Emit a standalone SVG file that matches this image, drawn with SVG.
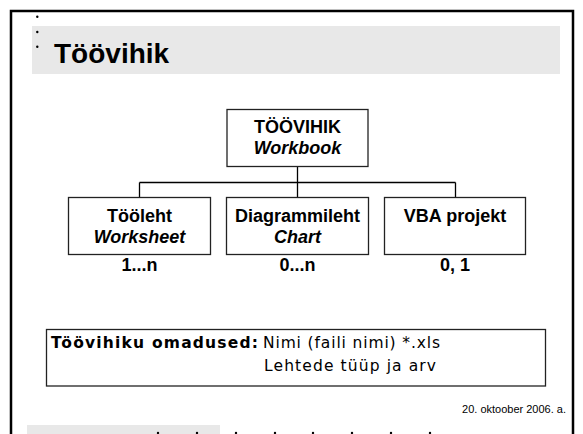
<svg xmlns="http://www.w3.org/2000/svg" width="583" height="434" viewBox="0 0 583 434">
<style>
.box{fill:#fff;stroke:#222;stroke-width:1.3}
.b{font-family:"Liberation Sans",Arial,sans-serif;font-weight:bold;font-size:18px;text-anchor:middle;fill:#000}
.i{font-style:italic}
.conn{fill:none;stroke:#000;stroke-width:1.3}
.p{font-family:"DejaVu Sans",Verdana,sans-serif;font-size:15.5px;fill:#000}
.dot{fill:#000}
</style>
<rect width="583" height="434" fill="#fff"/>
<path d="M11 434 V11 H573 V434" fill="none" stroke="#000" stroke-width="2.5"/>
<rect x="32" y="26" width="528" height="48" fill="#e8e8e8"/>
<circle class="dot" cx="37.3" cy="16.8" r="1.2"/>
<circle class="dot" cx="37.3" cy="32" r="1.2"/>
<circle class="dot" cx="37.3" cy="46.8" r="1.2"/>
<text x="54" y="63" font-family="Liberation Sans,Arial,sans-serif" font-weight="bold" font-size="28">Töövihik</text>
<g id="connectors">
<path class="conn" d="M297.5 167 V182.5 M139.5 182.5 H455.5 M139.5 182.5 V197 M297.5 182.5 V197 M455.5 182.5 V197"/>
</g>
<g id="workbook">
<rect class="box" x="227" y="109.5" width="141" height="57"/>
<text class="b" x="297.5" y="133">TÖÖVIHIK</text>
<text class="b i" x="297.5" y="154">Workbook</text>
</g>
<g id="worksheet">
<rect class="box" x="68.5" y="197.5" width="142" height="57"/>
<text class="b" x="139.5" y="221.5">Tööleht</text>
<text class="b i" x="139.5" y="243">Worksheet</text>
<text class="b" x="139.5" y="271">1...n</text>
</g>
<g id="chart">
<rect class="box" x="226.5" y="197.5" width="142" height="57"/>
<text class="b" x="297.5" y="221.5">Diagrammileht</text>
<text class="b i" x="297.5" y="243">Chart</text>
<text class="b" x="297.5" y="271">0...n</text>
</g>
<g id="vba">
<rect class="box" x="384.5" y="197.5" width="141" height="57"/>
<text class="b" x="455" y="221.5">VBA projekt</text>
<text class="b" x="455" y="271">0, 1</text>
</g>
<g id="properties">
<rect class="box" x="46.5" y="329.5" width="499" height="56.5"/>
<text class="p" x="51" y="348" font-weight="bold" textLength="207" lengthAdjust="spacing">Töövihiku omadused:</text>
<text class="p" x="263" y="348" textLength="177" lengthAdjust="spacing">Nimi (faili nimi) *.xls</text>
<text class="p" x="264" y="371" textLength="172" lengthAdjust="spacing">Lehtede tüüp ja arv</text>
</g>
<text x="566" y="413" font-family="Liberation Sans,Arial,sans-serif" font-size="11" text-anchor="end">20. oktoober 2006. a.</text>
<rect x="27" y="425" width="193" height="9" fill="#e8e8e8"/>
<g class="dot">
<circle cx="158" cy="433" r="1.2"/>
<circle cx="197" cy="433" r="1.2"/>
<circle cx="236" cy="433" r="1.2"/>
<circle cx="275" cy="433" r="1.2"/>
<circle cx="313" cy="433" r="1.2"/>
<circle cx="352" cy="433" r="1.2"/>
<circle cx="391" cy="433" r="1.2"/>
<circle cx="430" cy="433" r="1.2"/>
</g>
</svg>
